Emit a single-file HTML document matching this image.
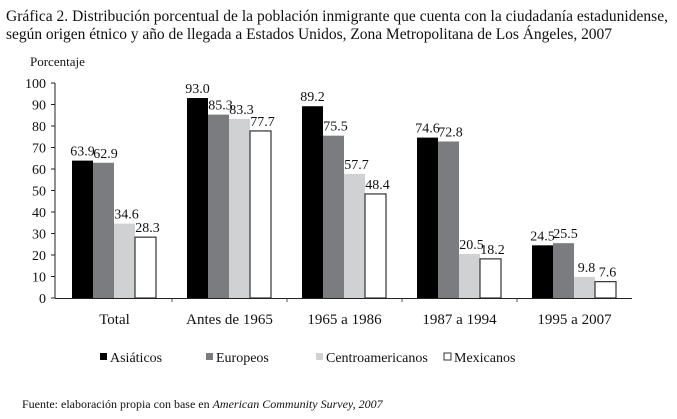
<!DOCTYPE html>
<html><head><meta charset="utf-8"><style>
body{margin:0;background:#fff;width:677px;height:414px;overflow:hidden;font-family:"Liberation Serif",serif;}
svg text{font-family:"Liberation Serif",serif;fill:#111;}
</style></head><body>
<svg width="677" height="414">
<text x="6" y="21" font-size="15.5" textLength="662">Gráfica 2. Distribución porcentual de la población inmigrante que cuenta con la ciudadanía estadunidense,</text>
<text x="6" y="39" font-size="15.5" textLength="606">según origen étnico y año de llegada a Estados Unidos, Zona Metropolitana de Los Ángeles, 2007</text>
<text x="30" y="66" font-size="13">Porcentaje</text>
<g id="plot"></g>
<g id="legend"></g>
<text x="22" y="408" font-size="12">Fuente: elaboración propia con base en <tspan font-style="italic">American Community Survey, 2007</tspan></text>
</svg>
<script>
const categories=["Total","Antes de 1965","1965 a 1986","1987 a 1994","1995 a 2007"];
const seriesNames=["Asiáticos","Europeos","Centroamericanos","Mexicanos"];
const asiaticos=[63.9,93.0,89.2,74.6,24.5];
const europeos=[62.9,85.3,75.5,72.8,25.5];
const centro=[34.6,83.3,57.7,20.5,9.8];
const mexicanos=[28.3,77.7,48.4,18.2,7.6];
const yTicks=[0,10,20,30,40,50,60,70,80,90,100];
const series=[asiaticos,europeos,centro,mexicanos];
const fills=["#000","#7a7c80","#d0d1d3","#fff"];
const NS="http://www.w3.org/2000/svg";
const x0=57,x1=632,y0=298,yTop=83;
const bw=(x1-x0)/categories.length;
const y=v=>y0-(v/100)*(y0-yTop);
const g=document.getElementById('plot');
function mk(t,a){const e=document.createElementNS(NS,t);for(const k in a)e.setAttribute(k,a[k]);return e;}
let ax=mk('line',{x1:x0-2,y1:yTop,x2:x0-2,y2:y0,stroke:'#222'});


g.appendChild(ax);
yTicks.forEach(t=>{
 const l=mk('line',{x1:x0-6,x2:x0-2,y1:y(t),y2:y(t),stroke:'#222'});
 
 
 g.appendChild(l);
 const tx=mk('text',{x:x0-11,y:y(t)+5,'text-anchor':'end','font-size':14});
 tx.textContent=t;
 
 
 g.appendChild(tx);
});
categories.forEach((c,i)=>{
 const gs=x0+i*bw;
 series.forEach((s,j)=>{
  const v=s[i];const bx=gs+15+j*21;
  const r=mk('rect',{x:bx,y:y(v),width:21,height:y0-y(v),fill:fills[j],stroke:j==3?'#333':'none','stroke-width':1.2});
  
  
  g.appendChild(r);
  const t=mk('text',{x:bx+10.5+(j==0?0:2),y:y(v)-5,'text-anchor':'middle','font-size':14});
  t.textContent=v.toFixed(1);
  
  
  g.appendChild(t);
 });
 const lb=mk('text',{x:gs+bw/2,y:324,'text-anchor':'middle','font-size':15});
 lb.textContent=c;
 
 
 g.appendChild(lb);
 if(i>0){const tk=mk('line',{x1:gs,x2:gs,y1:y0,y2:y0+4,stroke:'#555'});
 
 
 g.appendChild(tk);}
});
const xa=mk('line',{x1:x0-2,x2:x1,y1:y0+.5,y2:y0+.5,stroke:'#222'});


g.appendChild(xa);
const lg=document.getElementById('legend');
const lx=[100,206,316,444];
seriesNames.forEach((n,j)=>{
 const r=mk('rect',{x:lx[j],y:353,width:7,height:7,fill:fills[j],stroke:j==3?'#333':'none'});
 
 
 lg.appendChild(r);
 const t=mk('text',{x:lx[j]+10,y:362,'font-size':14});
 t.textContent=n;
 
 
 lg.appendChild(t);
});
</script>
</body></html>
